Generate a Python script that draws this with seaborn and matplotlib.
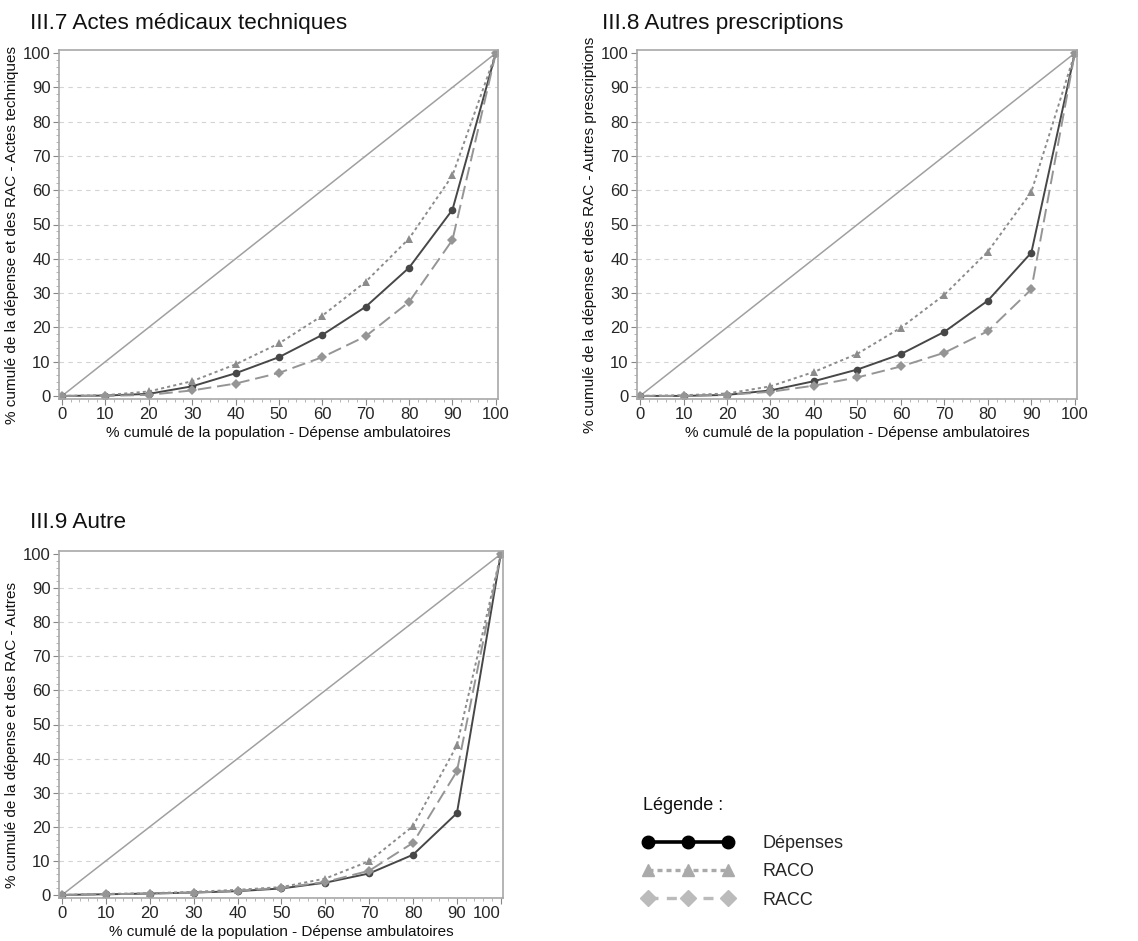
import numpy as np
import pandas as pd
import matplotlib
matplotlib.use("Agg")
import matplotlib.pyplot as plt
from matplotlib.lines import Line2D
from matplotlib.ticker import MultipleLocator
import seaborn as sns

# cumulative population share (x axis)
pop = [0, 10, 20, 30, 40, 50, 60, 70, 80, 90, 100]
diag = [0, 100]

# III.7 Actes medicaux techniques
actes_dep = [0, 0.1, 0.6, 2.8, 6.6, 11.3, 17.8, 26.0, 37.4, 54.3, 100]
actes_raco = [0, 0.2, 1.3, 4.3, 9.2, 15.3, 23.4, 33.3, 45.9, 64.3, 100]
actes_racc = [0, 0.0, 0.3, 1.6, 3.6, 6.7, 11.3, 17.4, 27.4, 45.5, 100]

# III.8 Autres prescriptions
presc_dep = [0, 0.0, 0.3, 1.6, 4.3, 7.7, 12.2, 18.7, 27.8, 41.8, 100]
presc_raco = [0, 0.2, 0.7, 2.8, 7.0, 12.3, 19.9, 29.5, 42.1, 59.5, 100]
presc_racc = [0, 0.0, 0.3, 1.2, 3.0, 5.4, 8.6, 12.6, 18.9, 31.1, 100]

# III.9 Autre
autre_dep = [0, 0.2, 0.4, 0.7, 1.1, 1.9, 3.6, 6.3, 11.8, 24.0, 100]
autre_raco = [0, 0.3, 0.5, 0.9, 1.5, 2.3, 4.8, 9.9, 20.2, 43.9, 100]
autre_racc = [0, 0.2, 0.4, 0.7, 1.2, 2.1, 3.8, 7.1, 15.3, 36.3, 100]

series = ["Dépenses", "RACO", "RACC"]
panels = [
    ("III.7 Actes médicaux techniques", "% cumulé de la dépense et des RAC - Actes techniques",
     [actes_dep, actes_raco, actes_racc]),
    ("III.8 Autres prescriptions", "% cumulé de la dépense et des RAC - Autres prescriptions",
     [presc_dep, presc_raco, presc_racc]),
    ("III.9 Autre", "% cumulé de la dépense et des RAC - Autres",
     [autre_dep, autre_raco, autre_racc]),
]

palette = {"Dépenses": "#474747", "RACO": "#8c8c8c", "RACC": "#959595"}
dashes = {"Dépenses": "", "RACO": (1.6, 1.6), "RACC": (7, 3)}
markers = {"Dépenses": "o", "RACO": "^", "RACC": "D"}

sns.set_theme(style="white")
plt.rcParams["font.family"] = ["Liberation Sans", "DejaVu Sans"]

W, H = 1138, 941
fig = plt.figure(figsize=(W / 100, H / 100), dpi=100)

# axes boxes in pixels: left, top, right, bottom
boxes = [(59, 50, 498, 399), (637, 50, 1077, 399), (59, 551, 503, 898)]
title_pos = [(30, 23), (602, 23), (30, 522)]

for i, ((title, ylab, vals), (l, t, r, b), (tx, ty)) in enumerate(zip(panels, boxes, title_pos)):
    ax = fig.add_axes([l / W, 1 - b / H, (r - l) / W, (b - t) / H])
    rows = []
    for name, v in zip(series, vals):
        for xx, yy in zip(pop, v):
            rows.append({"pop": xx, "val": yy, "serie": name})
    df = pd.DataFrame(rows)

    sns.lineplot(x=diag, y=diag, color="#a0a0a0", lw=1.1, ax=ax)
    sns.lineplot(data=df, x="pop", y="val", hue="serie", style="serie",
                 palette=palette, dashes=dashes, markers=markers,
                 markersize=5.5, markeredgewidth=0, lw=1.4, legend=False, ax=ax)

    ax.set_xlim(-0.7, 100.5)
    ax.set_ylim(-0.9, 100.9)
    ax.set_xticks(range(0, 101, 10))
    ax.set_yticks(range(0, 101, 10))
    ax.xaxis.set_minor_locator(MultipleLocator(2))
    ax.yaxis.set_minor_locator(MultipleLocator(2))
    ax.tick_params(axis="both", which="major", direction="out", length=4, width=0.8,
                   color="#888888", labelsize=12, pad=2, bottom=True, left=True)
    ax.tick_params(axis="both", which="minor", direction="out", length=2, width=0.6,
                   color="#aaaaaa", bottom=True, left=True)
    ax.grid(axis="y", which="major", linestyle=(0, (4, 4)), color="#d4d4d4", lw=0.8)
    gl = ax.yaxis.get_gridlines()
    gl[0].set_visible(False)
    gl[-1].set_visible(False)
    for sp in ax.spines.values():
        sp.set_color("#a8a8a8")
        sp.set_linewidth(1.2)
    if i == 2:
        # last x label sits flush with the frame on the bottom panel
        ax.get_xticklabels()[-1].set_horizontalalignment("right")

    ax.set_xlabel("% cumulé de la population - Dépense ambulatoires", fontsize=11,
                  labelpad=2.5, color="#111111")
    ax.set_ylabel(ylab, fontsize=11, color="#111111")
    ax.yaxis.set_label_coords(-0.09, 0.47)
    fig.text(tx / W, 1 - ty / H, title, fontsize=16.2, va="center", ha="left", color="#111111")

# legend
fig.text(643 / W, 1 - 805 / H, "Légende :", fontsize=13, va="center", ha="left", color="#111111")
handles = [
    Line2D([], [], color="black", lw=2.6, marker="o", markersize=9),
    Line2D([], [], color="#aaaaaa", lw=2.4, ls=(0, (1.5, 1.2)), marker="^", markersize=9),
    Line2D([], [], color="#bbbbbb", lw=2.4, ls=(0, (3, 2.5)), marker="D", markersize=8),
]
fig.legend(handles, series, loc="upper left", bbox_to_anchor=(643 / W, 1 - 835 / H),
           frameon=False, numpoints=3, fontsize=13, handlelength=5.0,
           handletextpad=1.6, labelspacing=0.63, borderpad=0, borderaxespad=0)

fig.savefig("out.png", dpi=100)
